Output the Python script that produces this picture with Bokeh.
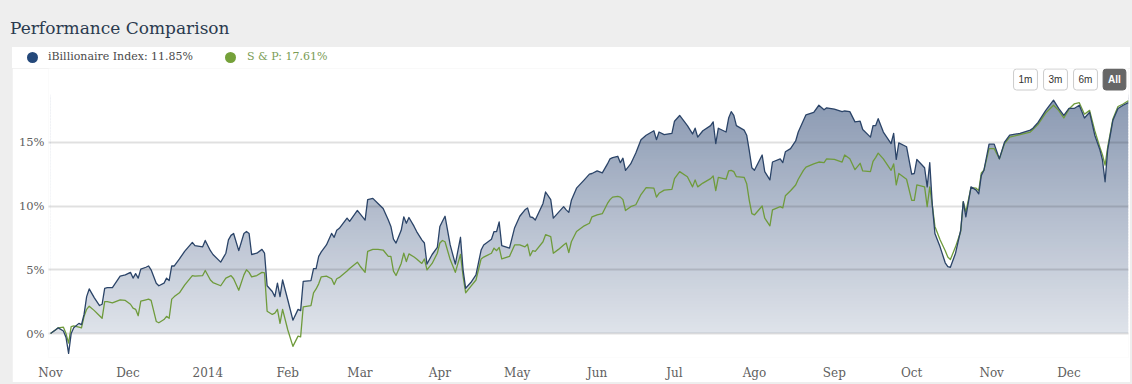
import pandas as pd
from bokeh.plotting import figure
from bokeh.models import (Range1d, FixedTicker, Label, Div, PrintfTickFormatter,
                          GlobalInlineStyleSheet)
from bokeh.layouts import column
from bokeh.embed import file_html
from bokeh.resources import INLINE

# ---------------- data ----------------
START = "2013-11-01"
days = [0, 2, 3, 5, 6, 7, 8, 9, 11, 12, 13, 14, 15, 17, 19, 20, 21, 22, 24, 27,
        29, 31, 32, 33, 34, 35, 37, 38, 39, 41, 42, 44, 45, 46, 47, 48, 50, 52, 55, 56,
        59, 60, 62, 63, 66, 68, 69, 70, 71, 73, 75, 76, 77, 78, 80, 82, 83, 84, 86, 87,
        88, 89, 90, 92, 94, 96, 97, 98, 101, 102, 103, 104, 105, 107, 109, 110, 111, 112, 115, 116,
        119, 120, 122, 123, 125, 127, 129, 131, 132, 133, 134, 136, 137, 138, 139, 141, 142, 144, 145, 146,
        148, 150, 151, 152, 153, 155, 157, 159, 160, 161, 163, 165, 167, 168, 171, 172, 173, 174, 175, 178,
        180, 182, 184, 185, 186, 187, 188, 191, 192, 194, 195, 197, 199, 200, 201, 202, 204, 207, 209, 210,
        212, 214, 216, 217, 218, 220, 221, 222, 223, 225, 227, 229, 231, 234, 235, 236, 238, 241, 242, 244,
        247, 249, 250, 251, 253, 256, 257, 258, 259, 262, 263, 264, 265, 266, 269, 270, 271, 272, 273, 276,
        277, 279, 280, 283, 284, 285, 287, 289, 290, 292, 293, 296, 298, 300, 301, 304, 307, 308, 310, 312,
        314, 315, 318, 319, 320, 321, 323, 326, 327, 328, 329, 332, 334, 335, 336, 339, 340, 341, 342, 343,
        345, 347, 348, 349, 351, 353, 354, 355, 357, 359, 360, 361, 362, 364, 366, 368, 370, 372, 376, 380,
        381, 383, 386, 389, 391, 393, 395, 397, 399, 401, 403, 405, 407, 408, 409, 410, 412, 414, 416, 418]

ibillionaire = [0.0, 0.3, 0.45, 0.2, -0.3, -1.55, 0.0, 0.45, 0.8, 0.7, 1.5, 2.9, 3.5, 2.8, 2.2, 2.3, 3.55, 3.6, 3.6, 4.5,
                4.6, 4.8, 4.35, 4.7, 4.35, 5.05, 5.2, 5.3, 5.0, 3.95, 3.75, 3.95, 4.35, 4.15, 5.3, 5.3, 5.85, 6.45, 7.15, 6.9,
                6.8, 7.3, 6.5, 6.2, 5.6, 6.3, 7.35, 7.7, 7.85, 6.5, 7.85, 8.0, 7.85, 6.2, 6.3, 6.6, 6.3, 3.75, 3.3, 2.9,
                3.95, 2.9, 4.2, 2.65, 1.05, 1.9, 1.8, 4.1, 4.15, 5.1, 5.1, 6.05, 6.4, 6.95, 7.85, 7.55, 8.1, 8.25, 9.05, 8.8,
                9.65, 9.4, 8.9, 10.5, 10.6, 10.2, 9.8, 8.9, 8.4, 7.4, 7.1, 8.1, 9.15, 8.65, 9.1, 8.4, 8.0, 7.35, 7.1, 5.45,
                6.2, 6.75, 8.4, 8.8, 9.2, 6.95, 5.45, 7.55, 5.0, 3.55, 4.0, 4.6, 6.55, 6.95, 7.4, 8.0, 8.0, 8.75, 6.9, 6.7,
                8.3, 9.2, 9.7, 9.85, 9.15, 9.1, 8.9, 10.2, 11.1, 10.5, 9.05, 9.5, 9.95, 9.7, 9.5, 10.45, 11.4, 12.05, 12.5, 12.55,
                12.75, 12.6, 13.3, 13.7, 13.8, 13.9, 13.4, 13.75, 12.8, 13.3, 14.15, 15.2, 15.55, 15.9, 15.2, 15.8, 15.6, 15.7, 16.65, 17.1,
                16.3, 15.65, 16.1, 15.4, 15.9, 16.3, 16.6, 14.9, 16.1, 15.8, 16.9, 17.4, 17.1, 16.3, 15.95, 15.55, 14.35, 13.0, 12.8, 14.0,
                12.7, 12.05, 13.45, 13.7, 13.4, 14.25, 14.5, 15.1, 15.8, 16.7, 17.15, 17.35, 17.9, 17.55, 17.7, 17.6, 17.4, 17.45, 17.4, 16.6,
                16.65, 16.0, 15.4, 16.3, 16.3, 16.85, 15.8, 14.9, 15.7, 13.65, 14.95, 14.65, 12.5, 12.55, 13.65, 13.0, 11.5, 13.4, 10.05, 7.85,
                6.8, 5.55, 5.25, 5.2, 6.3, 8.1, 10.35, 9.15, 11.5, 11.25, 10.95, 12.4, 12.8, 14.85, 14.85, 13.7, 15.0, 15.55, 15.7, 15.95,
                16.1, 16.55, 17.5, 18.3, 17.65, 17.1, 17.65, 17.65, 17.9, 16.9, 17.35, 15.55, 14.4, 13.6, 11.9, 14.4, 16.7, 17.65, 17.9, 18.1]

sp500 = [0.0, 0.3, 0.45, 0.5, 0.0, -0.75, 0.55, 0.6, 0.5, 0.45, 1.35, 1.9, 2.15, 1.8, 1.4, 1.2, 2.5, 2.5, 2.4, 2.65,
         2.6, 2.3, 2.0, 1.9, 1.4, 2.55, 2.65, 2.7, 2.6, 0.95, 0.85, 1.1, 1.35, 1.2, 2.7, 2.9, 3.2, 3.8, 4.55, 4.5,
         4.55, 4.95, 4.2, 4.0, 3.75, 4.35, 4.45, 4.55, 4.3, 3.4, 4.6, 5.0, 4.8, 4.45, 4.55, 4.8, 4.75, 1.75, 1.5, 1.6,
         1.9, 0.8, 1.9, 0.3, -1.0, -0.2, -0.25, 2.1, 2.2, 3.2, 3.5, 3.9, 4.45, 4.5, 4.3, 3.85, 4.3, 4.4, 4.9, 5.1,
         5.6, 5.3, 4.8, 6.45, 6.6, 6.6, 6.55, 6.05, 6.05, 4.9, 4.55, 5.5, 6.3, 5.65, 6.25, 6.0, 5.85, 5.5, 5.85, 5.0,
         5.5, 6.3, 7.1, 7.3, 7.2, 5.8, 4.8, 6.2, 4.5, 3.2, 3.7, 4.2, 5.85, 6.0, 6.3, 6.7, 6.5, 6.75, 5.85, 6.05,
         6.95, 6.95, 6.8, 7.0, 6.1, 6.5, 6.45, 7.2, 7.75, 7.6, 6.3, 6.6, 6.95, 7.1, 6.35, 7.2, 8.0, 8.45, 8.65, 9.15,
         9.3, 9.4, 10.2, 10.5, 10.7, 10.75, 10.7, 10.5, 9.65, 9.95, 10.1, 10.9, 11.45, 11.4, 10.7, 11.0, 11.25, 11.3, 12.15, 12.7,
         12.3, 11.5, 12.05, 11.5, 11.8, 12.15, 12.35, 11.2, 12.25, 12.1, 12.75, 12.8, 12.7, 12.3, 12.25, 11.75, 10.45, 9.4, 9.3, 10.0,
         9.05, 8.45, 9.7, 9.95, 9.85, 10.8, 11.2, 11.65, 12.1, 12.8, 13.05, 13.3, 13.45, 13.4, 13.7, 13.65, 13.45, 14.0, 13.7, 12.85,
         13.35, 12.75, 12.7, 13.5, 13.8, 14.15, 13.7, 12.8, 13.3, 11.65, 12.55, 12.1, 10.45, 10.45, 11.65, 11.5, 9.95, 11.5, 10.05, 8.4,
         7.35, 6.5, 6.0, 5.8, 6.8, 8.0, 10.35, 9.55, 11.45, 11.4, 11.2, 12.6, 12.8, 14.5, 14.5, 13.7, 14.9, 15.4, 15.6, 15.8,
         16.0, 16.4, 17.3, 17.9, 17.5, 16.9, 17.6, 18.0, 18.1, 17.2, 17.5, 15.9, 14.6, 14.0, 13.2, 14.6, 16.8, 17.8, 18.0, 18.25]

month_ticks = ["2013-11-01", "2013-12-01", "2014-01-01", "2014-02-01", "2014-03-01", "2014-04-01", "2014-05-01",
               "2014-06-01", "2014-07-01", "2014-08-01", "2014-09-01", "2014-10-01", "2014-11-01", "2014-12-01"]
month_labels = ["Nov", "Dec", "2014", "Feb", "Mar", "Apr", "May", "Jun", "Jul", "Ago", "Sep", "Oct", "Nov", "Dec"]
y_ticks = [0, 5, 10, 15]
series_names = ["iBillionaire Index", "S & P"]
series_returns = ["11.85%", "17.61%"]
range_buttons = ["1m", "3m", "6m", "All"]
chart_title = "Performance Comparison"

# ---------------- styling / geometry (page pixels) ----------------
BLUE = "#2b4468"
GREEN = "#6f9b3c"
SERIF = "DejaVu Serif"
PANEL_LEFT = 12          # white panel left edge
TITLE_H = 47             # grey title strip height
LEGEND_H = 21            # legend row height
FIG_W = 1118
FIG_H = 314
FIG_TOP = TITLE_H + LEGEND_H
B_L, B_R, B_T, B_B = 36, 2, 0, 24
FRAME_H = FIG_H - B_T - B_B
FRAME_LEFT = PANEL_LEFT + B_L
FRAME_BOTTOM = FIG_TOP + B_T + FRAME_H
PX_PER_PCT = 12.8
ZERO_Y = 334             # page y of the 0 % line
Y_TOP = (ZERO_Y - FIG_TOP - B_T) / PX_PER_PCT
Y_BOT = -(FRAME_BOTTOM - ZERO_Y) / PX_PER_PCT


def sx(px):
    return px - FRAME_LEFT


def sy(py):
    return FRAME_BOTTOM - py


dates = pd.Timestamp(START) + pd.to_timedelta(days, unit="D")
x_start = dates[0] - pd.Timedelta(hours=19)
x_end = dates[-1] + pd.Timedelta(hours=2)

p = figure(width=FIG_W, height=FIG_H, x_axis_type="datetime", output_backend="svg",
           toolbar_location=None, x_range=Range1d(x_start, x_end), y_range=Range1d(Y_BOT, Y_TOP),
           min_border_left=B_L, min_border_right=B_R, min_border_top=B_T, min_border_bottom=B_B,
           margin=(0, 0, 0, PANEL_LEFT))
p.title.visible = False
p.outline_line_color = None
p.background_fill_color = "white"
p.border_fill_color = "white"

# gradient fill under the iBillionaire series (horizontal bands, then a white mask above the line)
top_val = max(ibillionaire) + 0.3
c0 = (223, 227, 234)
c1 = (138, 153, 178)
n_bands = 80
step = top_val / n_bands
band_left = dates[0] + pd.Timedelta(hours=3)
band_right = dates[-1]
for i in range(n_bands):
    lo = i * step
    t = min(1.0, (lo + step / 2) / 18.5)
    col = tuple(int(round(c0[k] + (c1[k] - c0[k]) * t)) for k in range(3))
    p.quad(left=[band_left], right=[band_right], bottom=[lo], top=[lo + step * 1.6],
           fill_color="#%02x%02x%02x" % col, line_color=None)
p.varea(x=dates, y1=ibillionaire, y2=Y_TOP, fill_color="white")
p.varea(x=[x_start, x_end], y1=Y_BOT, y2=0, fill_color="white")

r_sp = p.line(dates, sp500, line_color=GREEN, line_width=1.3, line_join="round")
r_ib = p.line(dates, ibillionaire, line_color=BLUE, line_width=1.3, line_join="round")
r_sp.level = "annotation"
r_ib.level = "annotation"

# grid
p.xgrid.visible = False
p.ygrid.ticker = FixedTicker(ticks=y_ticks)
p.ygrid.grid_line_color = "black"
p.ygrid.grid_line_alpha = 0.12
p.ygrid.grid_line_width = 2
p.ygrid.level = "guide"

# axes
tick_ms = [int(pd.Timestamp(t).value // 10**6) for t in month_ticks]
p.xaxis.ticker = FixedTicker(ticks=tick_ms)
p.xaxis.major_label_overrides = {ms: lab for ms, lab in zip(tick_ms, month_labels)}
p.yaxis.ticker = FixedTicker(ticks=y_ticks)
p.yaxis.formatter = PrintfTickFormatter(format="%d%%")
for ax in (p.xaxis[0], p.yaxis[0]):
    ax.axis_line_color = None
    ax.major_tick_line_color = None
    ax.minor_tick_line_color = None
    ax.major_tick_in = 0
    ax.major_tick_out = 0
    ax.minor_tick_out = 0
    ax.major_label_text_font = SERIF
    ax.major_label_text_color = "#606060"
p.xaxis.major_label_text_font_size = "12px"
p.xaxis.major_label_standoff = 8
p.yaxis.major_label_text_font_size = "11.5px"
p.yaxis.major_label_standoff = 4

# range selector buttons
btn_cx = [1025, 1055, 1085, 1114]
for i, lab in enumerate(range_buttons):
    sel = lab == "All"
    p.add_layout(Label(x=sx(btn_cx[i]), y=sy(80), x_units="screen", y_units="screen", text=lab,
                       text_font="Liberation Sans", text_font_size="10px",
                       text_font_style="bold" if sel else "normal",
                       text_color="white" if sel else "#333333",
                       background_fill_color="#666666" if sel else "white",
                       border_line_color="#666666" if sel else "#cccccc", border_line_width=1,
                       border_radius=3, padding=5,
                       text_align="center", text_baseline="middle"))

# legend row (HTML, inside the white panel)
leg_dot_colors = ["#24487a", "#75a13a"]
leg_text_colors = ["#4a4a4a", "#7a9c55"]
dot_cx = [32, 230]
text_x = [48, 247]
items = []
for i in range(2):
    items.append(
        f'<span style="position:absolute;left:{dot_cx[i] - PANEL_LEFT - 5.5}px;top:5px;width:11px;height:11px;'
        f'border-radius:50%;background:{leg_dot_colors[i]};"></span>'
        f'<span style="position:absolute;left:{text_x[i] - PANEL_LEFT}px;top:3px;line-height:14px;'
        f'font-family:\'{SERIF}\';font-size:11px;color:{leg_text_colors[i]};white-space:nowrap;">'
        f'{series_names[i]}: {series_returns[i]}</span>')
legend_div = Div(text=f'<div style="position:relative;width:{FIG_W}px;height:{LEGEND_H}px;">' + "".join(items) + "</div>",
                 width=FIG_W, height=LEGEND_H, margin=(0, 0, 0, PANEL_LEFT),
                 styles={"background-color": "white"})

title = Div(text=chart_title, width=FIG_W + PANEL_LEFT, height=TITLE_H, margin=(0, 0, 0, 0),
            styles={"font-family": SERIF, "font-size": "17px", "color": "#2a3a4e",
                    "padding-left": "10px", "padding-top": "16px", "white-space": "nowrap",
                    "box-sizing": "border-box"},
            stylesheets=[GlobalInlineStyleSheet(css="body { background-color: #eeeeee; }")])

layout = column(title, legend_div, p, spacing=0)
open("out.html", "w").write(file_html(layout, INLINE))
